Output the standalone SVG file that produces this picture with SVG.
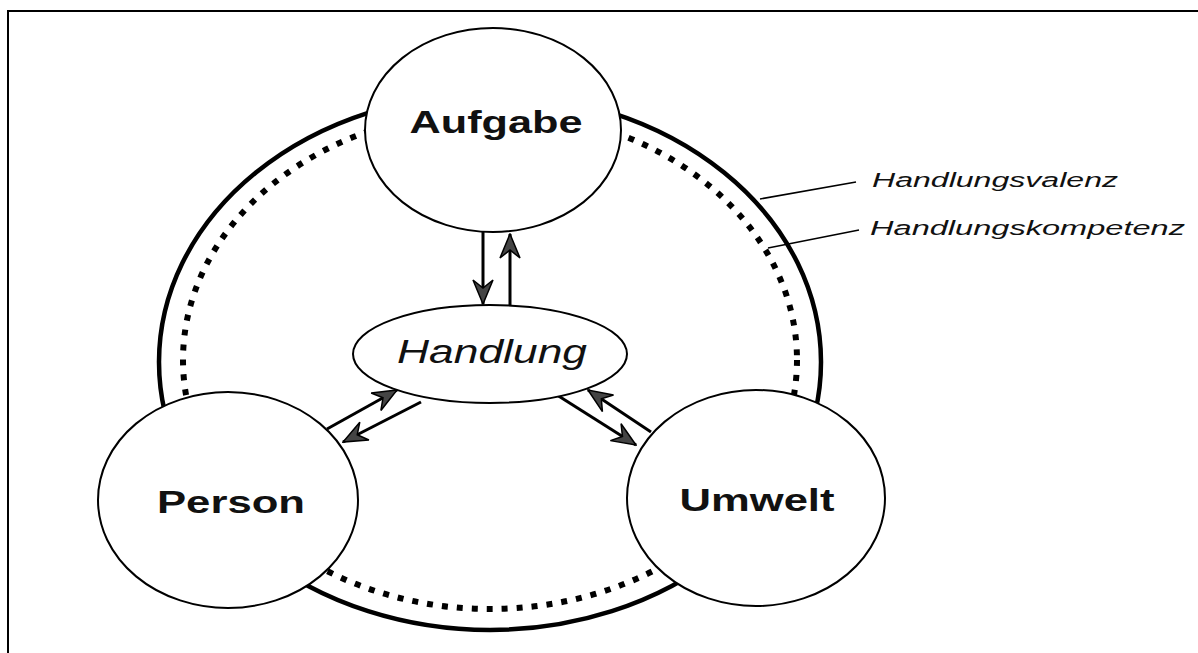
<svg xmlns="http://www.w3.org/2000/svg" width="1198" height="653" viewBox="0 0 1198 653">
<style>
.node{fill:#fff;stroke:#000;stroke-width:2}
.lbl{font-family:"Liberation Sans",Arial,sans-serif;font-weight:bold;font-size:31px;fill:#111;text-anchor:middle}
.ital{font-family:"Liberation Sans",Arial,sans-serif;font-style:italic;fill:#111}
.conn{stroke:#000;stroke-width:3;fill:none}
.lead{stroke:#000;stroke-width:1.6;fill:none}
</style>
<defs>
<marker id="ah" markerUnits="userSpaceOnUse" viewBox="0 0 26 22" markerWidth="26" markerHeight="22" refX="25" refY="11" orient="auto">
<path d="M1,1 L25,11 L1,21 L9,11 Z" fill="#444" stroke="#000" stroke-width="1.5"/>
</marker>
</defs>
<rect x="0" y="0" width="1198" height="653" fill="#fff"/>
<rect x="8" y="11" width="1210" height="700" fill="none" stroke="#000" stroke-width="2"/>
<g id="rings">
<ellipse cx="490" cy="362" rx="331" ry="268" fill="none" stroke="#000" stroke-width="4.5"/>
<ellipse cx="490" cy="360" rx="307" ry="249" fill="none" stroke="#000" stroke-width="6" stroke-dasharray="6 9"/>
</g>
<g id="connectors">
<line class="conn" x1="483" y1="232" x2="483" y2="304" marker-end="url(#ah)"/>
<line class="conn" x1="510" y1="305" x2="510" y2="234" marker-end="url(#ah)"/>
<line class="conn" x1="327" y1="429" x2="397" y2="390" marker-end="url(#ah)"/>
<line class="conn" x1="421" y1="402" x2="343" y2="442" marker-end="url(#ah)"/>
<line class="conn" x1="557" y1="395" x2="636" y2="445" marker-end="url(#ah)"/>
<line class="conn" x1="651" y1="432" x2="588" y2="390" marker-end="url(#ah)"/>
<line class="lead" x1="760" y1="199" x2="856" y2="182"/>
<line class="lead" x1="768" y1="248" x2="859" y2="230"/>
</g>
<g id="aufgabe">
<ellipse class="node" cx="493" cy="130" rx="128" ry="102"/>
<text class="lbl" x="496" y="133" textLength="173" lengthAdjust="spacingAndGlyphs">Aufgabe</text>
</g>
<g id="person">
<ellipse class="node" cx="228" cy="500" rx="130" ry="108"/>
<text class="lbl" x="231" y="513" textLength="148" lengthAdjust="spacingAndGlyphs">Person</text>
</g>
<g id="umwelt">
<ellipse class="node" cx="756" cy="498" rx="129" ry="108"/>
<text class="lbl" x="757" y="511" textLength="155" lengthAdjust="spacingAndGlyphs">Umwelt</text>
</g>
<g id="handlung">
<ellipse class="node" cx="490" cy="354" rx="137" ry="49"/>
<text class="ital" x="397" y="363" font-size="33" textLength="190" lengthAdjust="spacingAndGlyphs">Handlung</text>
</g>
<g id="labels">
<text class="ital" x="872" y="187" font-size="20" textLength="246" lengthAdjust="spacingAndGlyphs">Handlungsvalenz</text>
<text class="ital" x="870" y="235" font-size="20" textLength="315" lengthAdjust="spacingAndGlyphs">Handlungskompetenz</text>
</g>
</svg>
